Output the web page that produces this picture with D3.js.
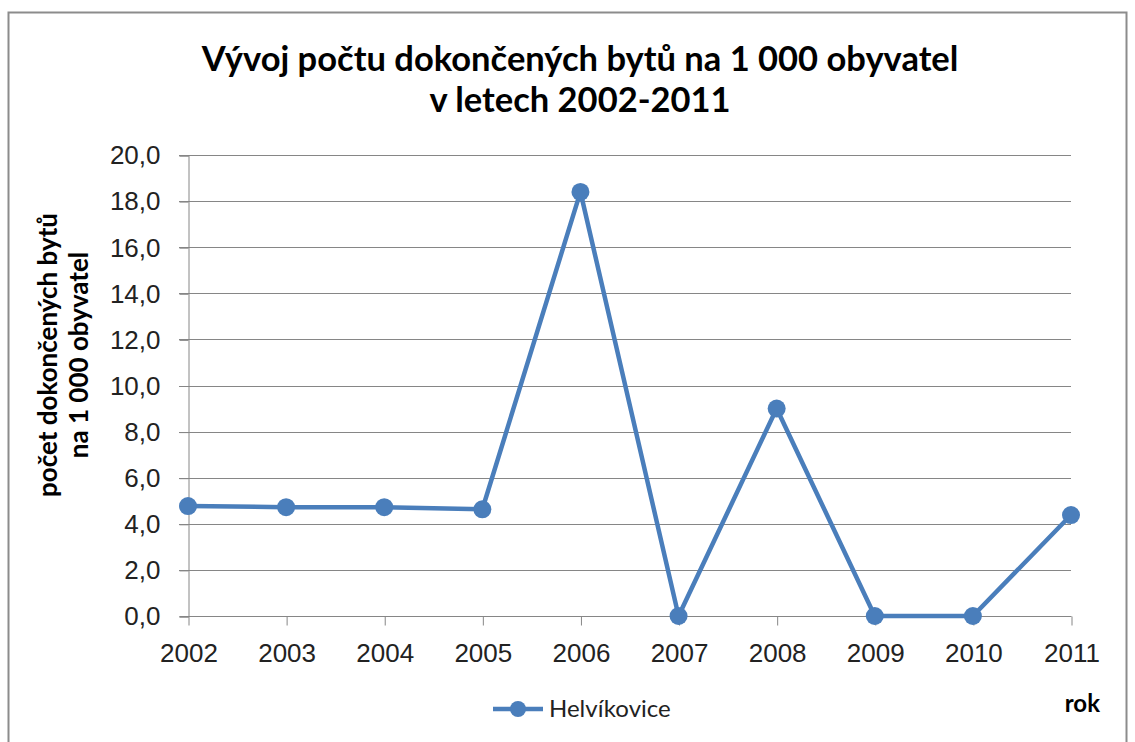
<!DOCTYPE html>
<html lang="cs">
<head>
  <meta charset="UTF-8">
  <title>Vývoj počtu dokončených bytů</title>
  <script src="https://d3js.org/d3.v7.min.js"></script>
  <style>
    body { margin: 0; background: #fff; font-family: Lato, "Open Sans", sans-serif; }
    .grid line { stroke: #868686; stroke-width: 1; }
    .tick text { fill: #222; font-size: 26px; }
    .title { font-size: 34.5px; font-weight: bold; text-anchor: middle; }
    .axis-label { font-size: 26px; font-weight: bold; text-anchor: middle; }
  </style>
</head>
<body>
<script>
  // Data
  var years = ["2002", "2003", "2004", "2005", "2006", "2007", "2008", "2009", "2010", "2011"];
  var values = [4.77, 4.72, 4.72, 4.63, 18.4, 0, 9.0, 0, 0, 4.38];
  var yTicks = [0, 2, 4, 6, 8, 10, 12, 14, 16, 18, 20];
  var seriesName = "Helvíkovice";

  var W = 1135, H = 742;
  var color = "#4a7ebb";

  var svg = d3.select("body").append("svg")
      .attr("width", W).attr("height", H);

  // chart border
  svg.append("rect")
     .attr("x", 8.5).attr("y", 12.5)
     .attr("width", 1118).attr("height", 760)
     .attr("fill", "none").attr("stroke", "#8c8c8c").attr("stroke-width", 2);

  var x = d3.scalePoint().domain(years).range([188, 1071]);
  var y = d3.scaleLinear().domain([0, 20]).range([616, 155]);

  // Title
  svg.append("text").attr("class", "title").attr("x", 580).attr("y", 71)
     .text("Vývoj počtu dokončených bytů na 1 000 obyvatel");
  svg.append("text").attr("class", "title").attr("x", 580).attr("y", 112)
     .text("v letech 2002-2011");

  // Gridlines
  svg.append("g").attr("class", "grid")
     .selectAll("line").data(yTicks.slice(1)).enter().append("line")
     .attr("x1", 179).attr("x2", 1071)
     .attr("y1", d => Math.round(y(d)) + 0.5).attr("y2", d => Math.round(y(d)) + 0.5);

  // Y axis
  var yAxis = svg.append("g")
     .attr("transform", "translate(188.5,0.5)")
     .call(d3.axisLeft(y).tickValues(yTicks).tickSize(9).tickPadding(19)
           .tickFormat(d => d3.format(".1f")(d).replace(".", ",")));
  yAxis.select(".domain").attr("stroke", "#868686");
  yAxis.selectAll(".tick line").attr("stroke", "#868686");

  // X axis
  var xAxis = svg.append("g")
     .attr("transform", "translate(0.5," + (y(0) + 0.5) + ")")
     .call(d3.axisBottom(x).tickSize(9).tickPadding(18).tickSizeOuter(0));
  xAxis.select(".domain").attr("stroke", "#868686").attr("d", "M179,0H1071");
  xAxis.selectAll(".tick line").attr("stroke", "#868686");

  // Axis labels
  svg.append("text").attr("class", "axis-label")
     .attr("transform", "translate(57,355) rotate(-90)")
     .text("počet dokončených bytů");
  svg.append("text").attr("class", "axis-label")
     .attr("transform", "translate(88,355) rotate(-90)")
     .text("na 1 000 obyvatel");
  svg.append("text").attr("class", "axis-label")
     .attr("x", 1100).attr("y", 712)
     .style("text-anchor", "end").style("font-size", "24px")
     .text("rok");

  // Line
  var line = d3.line().x((d, i) => x(years[i])).y(d => y(d));
  svg.append("path").datum(values)
     .attr("fill", "none").attr("stroke", color).attr("stroke-width", 4.5)
     .attr("stroke-linejoin", "round")
     .attr("d", line);

  svg.selectAll(".pt").data(values).enter().append("circle")
     .attr("class", "pt")
     .attr("cx", (d, i) => x(years[i])).attr("cy", d => y(d))
     .attr("r", 9).attr("fill", color);

  // Legend
  var lg = svg.append("g").attr("transform", "translate(493,709)");
  lg.append("line").attr("x1", 0).attr("x2", 50).attr("y1", 0).attr("y2", 0)
    .attr("stroke", color).attr("stroke-width", 4.5);
  lg.append("circle").attr("cx", 25).attr("cy", 0).attr("r", 8).attr("fill", color);
  lg.append("text").attr("x", 56).attr("y", 8).attr("font-size", 24).attr("fill", "#222")
    .text(seriesName);
</script>
</body>
</html>
